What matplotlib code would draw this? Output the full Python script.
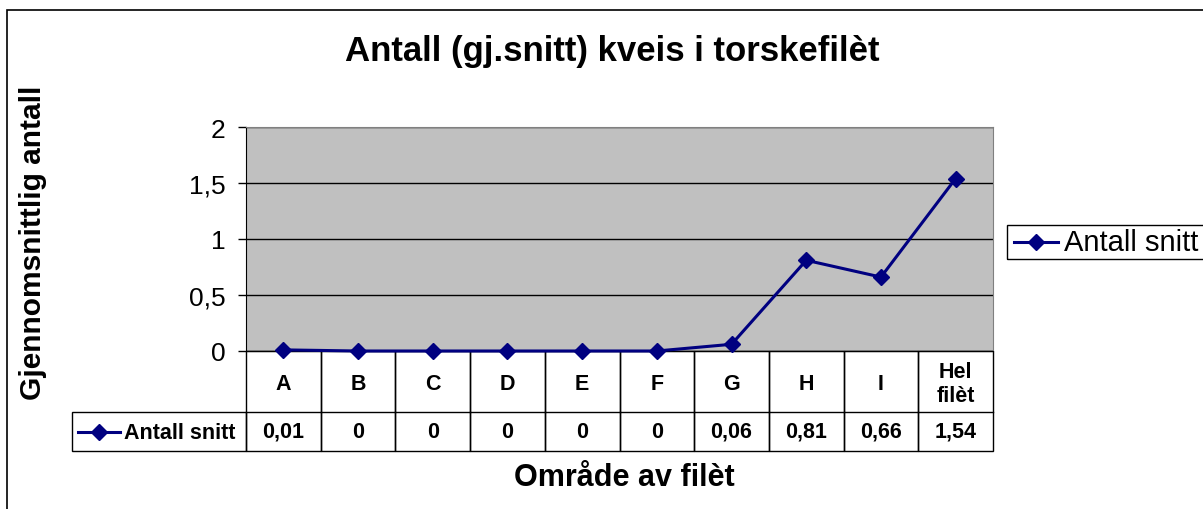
import matplotlib

matplotlib.use("Agg")
import matplotlib.pyplot as plt  # noqa: E402
from matplotlib.lines import Line2D  # noqa: E402
from matplotlib.patches import Rectangle  # noqa: E402
from matplotlib.ticker import FuncFormatter  # noqa: E402

plt.rcParams["font.family"] = ["Liberation Sans", "DejaVu Sans"]

categories = ["A", "B", "C", "D", "E", "F", "G", "H", "I", "Hel\nfilèt"]
antall_snitt = [0.01, 0, 0, 0, 0, 0, 0.06, 0.81, 0.66, 1.54]
value_labels = ["0,01", "0", "0", "0", "0", "0", "0,06", "0,81", "0,66", "1,54"]
series_name = "Antall snitt"
y_ticks = [0, 0.5, 1, 1.5, 2]

NAVY = "#000080"
W, H = 1203, 510


def fx(px):
    return px / W


def fy(py):
    return 1 - py / H


fig = plt.figure(figsize=(W / 100, H / 100), dpi=100)
fig.patch.set_facecolor("white")

# outer chart border (runs off the right/bottom edge like the original)
fig.add_artist(Rectangle((fx(7), fy(530)), 1.2, fy(11) - fy(530), transform=fig.transFigure,
                         fill=False, edgecolor="black", linewidth=1.2))

ax = fig.add_axes([fx(246), fy(352), fx(993) - fx(246), fy(128) - fy(352)])
ax.set_facecolor("#C0C0C0")
x = list(range(len(categories)))
ax.plot(x, antall_snitt, color=NAVY, linewidth=2.2, marker="D", markersize=8, zorder=3,
        clip_on=False)
ax.set_xlim(-0.5, len(categories) - 0.5)
ax.set_ylim(0, 2)
ax.set_yticks(y_ticks)
ax.yaxis.set_major_formatter(FuncFormatter(lambda v, _: f"{v:g}".replace(".", ",")))
ax.tick_params(axis="y", labelsize=19, direction="out", length=6, width=1, pad=9)
ax.set_xticks([])
for v in y_ticks:
    ax.axhline(v, color="black", linewidth=1, zorder=1)
for side in ["top", "right"]:
    ax.spines[side].set_color("#808080")
ax.spines["left"].set_color("black")
ax.spines["bottom"].set_color("black")

# data table below the plot: category row and value row
row1 = 61 / 224
row2 = 100 / 224
tr = ax.get_xaxis_transform()
for i, (cat, lab) in enumerate(zip(categories, value_labels)):
    ax.add_patch(Rectangle((i - 0.5, -row2), 1, row2, transform=tr, fill=False,
                           edgecolor="black", linewidth=1, clip_on=False))
    ax.plot([i - 0.5, i + 0.5], [-row1, -row1], transform=tr, color="black",
            linewidth=1, clip_on=False)
    ax.text(i, -row1 / 2 - 0.01, cat, transform=tr, ha="center", va="center",
            fontsize=15.5, fontweight="bold", linespacing=1.2)
    ax.text(i, -(row1 + row2) / 2, lab, transform=tr, ha="center", va="center",
            fontsize=15.5, fontweight="bold")

# label cell of the value row
fig.add_artist(Rectangle((fx(72), fy(452)), fx(246) - fx(72), fy(413) - fy(452),
                         transform=fig.transFigure, fill=False, edgecolor="black", linewidth=1))
fig.add_artist(Line2D([fx(78), fx(99), fx(120)], [fy(433)] * 3, transform=fig.transFigure,
                      color=NAVY, linewidth=2.2, marker="D", markersize=8, markevery=[1]))
fig.text(fx(124), fy(434), series_name, ha="left", va="center", fontsize=15.5,
         fontweight="bold")

# legend on the right
fig.add_artist(Rectangle((fx(1007), fy(260)), 0.5, fy(226) - fy(260), transform=fig.transFigure,
                         fill=False, edgecolor="black", linewidth=1))
fig.add_artist(Line2D([fx(1014), fx(1036), fx(1058)], [fy(243)] * 3, transform=fig.transFigure,
                      color=NAVY, linewidth=2.2, marker="D", markersize=8, markevery=[1]))
fig.text(fx(1064), fy(243), series_name, ha="left", va="center", fontsize=21)

fig.text(fx(612), fy(51), "Antall (gj.snitt) kveis i torskefilèt", ha="center", va="center",
         fontsize=25, fontweight="bold")
fig.text(fx(33), fy(243), "Gjennomsnittlig antall", ha="center", va="center", rotation=90,
         fontsize=21.5, fontweight="bold")
fig.text(fx(624), fy(478), "Område av filèt", ha="center", va="center",
         fontsize=22, fontweight="bold")

fig.savefig("out.png", dpi=100)
